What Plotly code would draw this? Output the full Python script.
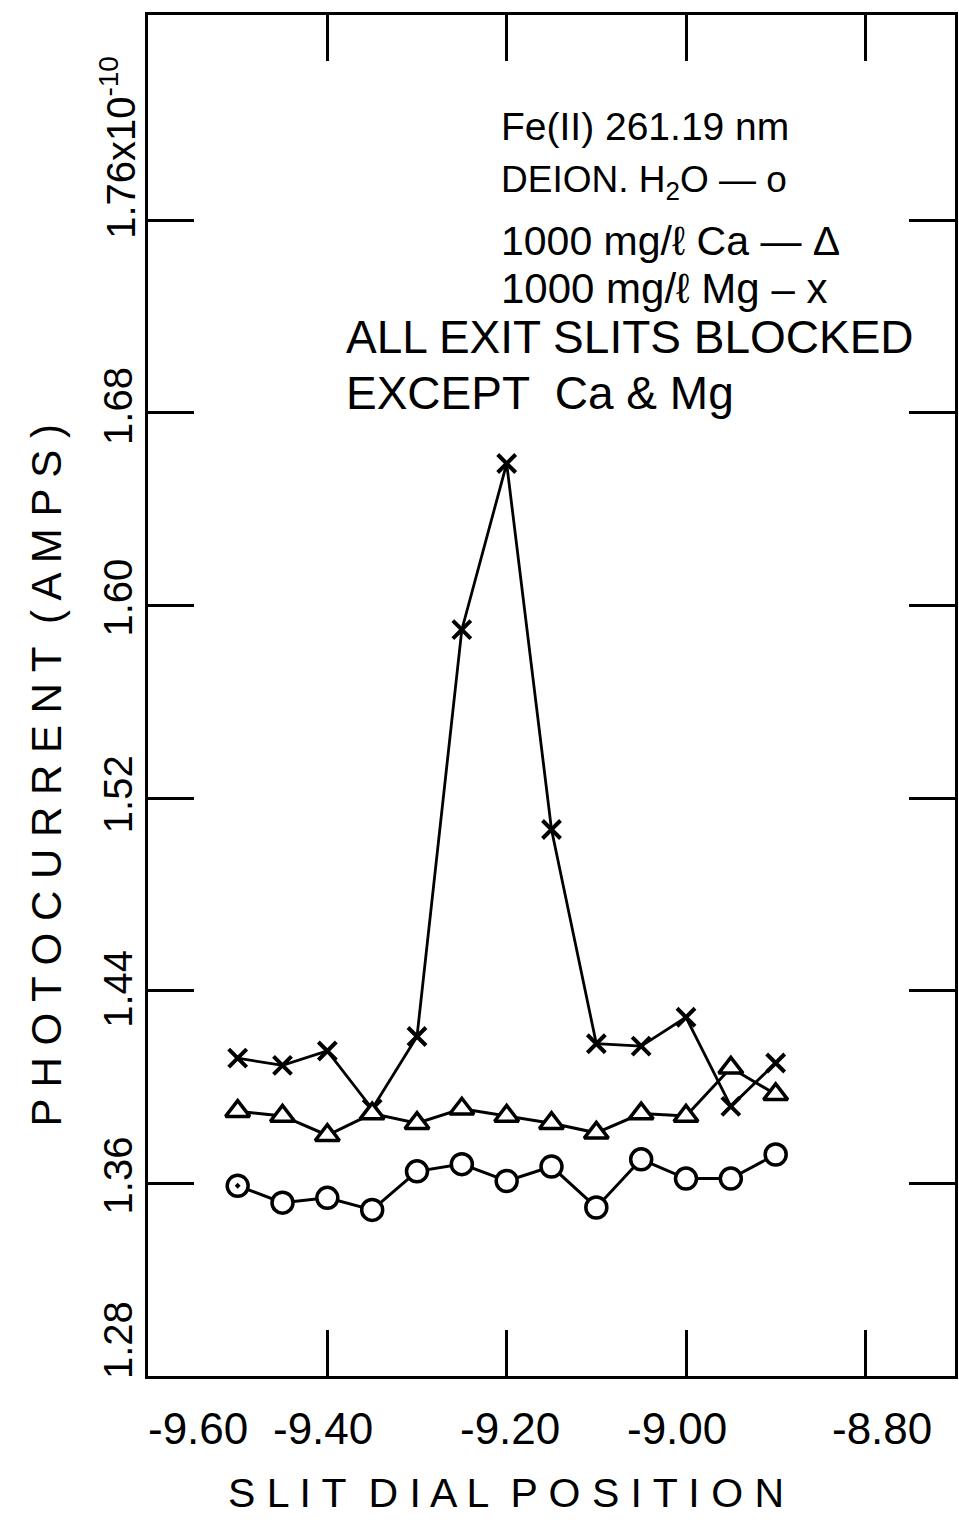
import plotly.graph_objects as go

# Slit dial positions (shared by all three runs)
dial = [-9.50, -9.45, -9.40, -9.35, -9.30, -9.25, -9.20,
        -9.15, -9.10, -9.05, -9.00, -8.95, -8.90]

# Photocurrent, units of 1e-10 A
deion_h2o = [1.359, 1.352, 1.354, 1.349, 1.365, 1.368, 1.361,
             1.367, 1.350, 1.370, 1.362, 1.362, 1.372]
ca_1000 = [1.390, 1.388, 1.380, 1.389, 1.385, 1.391, 1.388,
           1.385, 1.381, 1.389, 1.388, 1.408, 1.397]
mg_1000 = [1.412, 1.409, 1.415, 1.391, 1.421, 1.590, 1.659,
           1.507, 1.418, 1.417, 1.429, 1.392, 1.410]

x_ticks = [-9.60, -9.40, -9.20, -9.00, -8.80]
x_tick_text = ["-9.60", "-9.40", "-9.20", "-9.00", "-8.80"]
y_ticks = [1.28, 1.36, 1.44, 1.52, 1.60, 1.68, 1.76]
y_tick_text = ["1.28", "1.36", "1.44", "1.52", "1.60", "1.68", "1.76x10<sup>-10</sup>"]

FONT = "Liberation Sans"
INK = "black"

fig = go.Figure()

# Mg run drawn first so the Ca triangles sit over it where they meet
fig.add_trace(go.Scatter(
    x=dial, y=mg_1000, mode="lines+markers",
    line=dict(color=INK, width=2.8),
    marker=dict(symbol="x-thin", size=18, line=dict(color=INK, width=4)),
))
fig.add_trace(go.Scatter(
    x=dial, y=ca_1000, mode="lines+markers",
    line=dict(color=INK, width=3),
    marker=dict(symbol="triangle-up", size=21, color="white",
                line=dict(color=INK, width=3.5)),
))
h2o_symbols = ["circle-dot"] + ["circle"] * (len(dial) - 1)
fig.add_trace(go.Scatter(
    x=dial, y=deion_h2o, mode="lines+markers",
    line=dict(color=INK, width=3),
    marker=dict(symbol=h2o_symbols, size=21, color="white",
                line=dict(color=INK, width=3.5)),
))

annotations = []

# x tick labels (hand-lettered positions are slightly offset from ticks)
x_label_shift = [50, -4, 3, -9, 17]
for v, t, dx in zip(x_ticks, x_tick_text, x_label_shift):
    annotations.append(dict(
        x=v, xref="x", y=0, yref="paper", yanchor="top", xanchor="center",
        yshift=-26, xshift=dx, text=t, showarrow=False,
        font=dict(family=FONT, size=44, color=INK)))

# y tick labels, written sideways
y_label_shift = [36, 8, 2, 4, 8, 7, -21]
for v, t, dy in zip(y_ticks, y_tick_text, y_label_shift):
    last = t.startswith("1.76")
    annotations.append(dict(
        x=0, xref="paper", y=v, yref="y", xanchor="center",
        yanchor="bottom" if last else "middle",
        xshift=-30, yshift=dy, text=t, textangle=-90, showarrow=False,
        font=dict(family=FONT, size=40, color=INK)))

# Axis titles
annotations.append(dict(
    x=0.5, xref="paper", y=0, yref="paper", xanchor="center", yanchor="top",
    xshift=-46, yshift=-92, text="S L I T  D I A L  P O S I T I O N", showarrow=False,
    font=dict(family=FONT, size=41, color=INK)))
annotations.append(dict(
    x=0, xref="paper", y=0.5, yref="paper", xanchor="center", yanchor="middle",
    xshift=-102, yshift=-80, text="P H O T O C U R R E N T  ( A M P S )", textangle=-90,
    showarrow=False, font=dict(family=FONT, size=42, color=INK)))

# Key / notes block
notes = [
    ("Fe(II) 261.19 nm", 500, 126, 39),
    ("DEION. H<sub>2</sub>O — o", 500, 182, 37),
    ("1000 mg/ℓ Ca — Δ", 500, 241, 41),
    ("1000 mg/ℓ Mg – x", 500, 288, 42),
    ("ALL EXIT SLITS BLOCKED", 345, 337, 46),
    ("EXCEPT  Ca &amp; Mg", 345, 393, 46),
]
L, T, W, H = 148, 15, 810, 1361
for txt, px, py, fs in notes:
    annotations.append(dict(
        x=(px - L) / W, xref="paper", y=1 - (py - T) / H, yref="paper",
        xanchor="left", yanchor="middle", text=txt, showarrow=False,
        font=dict(family=FONT, size=fs, color=INK)))

axis_common = dict(
    showline=True, linecolor=INK, linewidth=3, mirror="ticks",
    ticks="inside", ticklen=46, tickwidth=3, tickcolor=INK,
    showgrid=False, zeroline=False, showticklabels=False,
)

fig.update_layout(
    width=959, height=1520,
    margin=dict(l=L, r=959 - L - W, t=T, b=1520 - T - H),
    paper_bgcolor="white", plot_bgcolor="white",
    showlegend=False,
    xaxis=dict(range=[-9.60, -8.70], tickvals=x_ticks, **axis_common),
    yaxis=dict(range=[1.28, 1.8453], tickvals=y_ticks, **axis_common),
    annotations=annotations,
)

fig.write_html("out.html")
